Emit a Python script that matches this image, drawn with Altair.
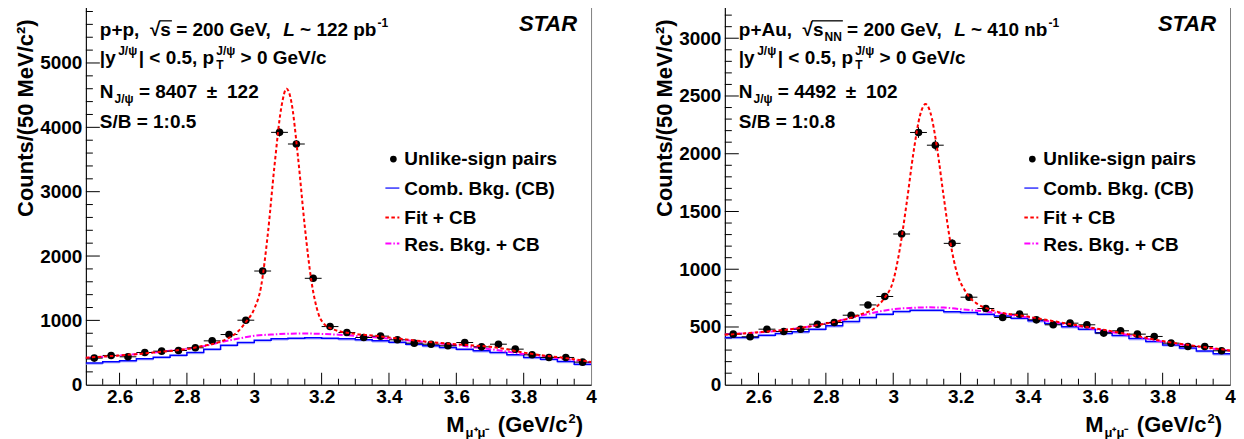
import altair as alt
import pandas as pd

FONT = "Liberation Sans"
W, H = 506, 379

# ---------------- data ----------------
BIN_CENTERS = [2.525, 2.575, 2.625, 2.675, 2.725, 2.775, 2.825, 2.875, 2.925, 2.975,
               3.025, 3.075, 3.125, 3.175, 3.225, 3.275, 3.325, 3.375, 3.425, 3.475,
               3.525, 3.575, 3.625, 3.675, 3.725, 3.775, 3.825, 3.875, 3.925, 3.975]
BIN_HALF = 0.025

# p+p
PP_COUNTS = [414, 455, 434, 501, 522, 532, 574, 682, 780, 1003,
             1767, 3922, 3741, 1654, 904, 811, 734, 755, 698, 646,
             630, 605, 656, 589, 630, 553, 465, 424, 424, 351]
PP_ERR = [20, 21, 21, 22, 23, 23, 24, 26, 28, 32,
          42, 63, 61, 41, 30, 28, 27, 27, 26, 25,
          25, 25, 26, 24, 25, 24, 22, 21, 21, 19]
PP_CB = [336, 357, 372, 403, 429, 460, 501, 553, 615, 656,
         690, 713, 724, 729, 724, 713, 698, 682, 661, 630,
         605, 579, 553, 527, 501, 465, 424, 398, 362, 320]
PP_FIT_X = [2.50, 2.55, 2.60, 2.65, 2.70, 2.75, 2.80, 2.85, 2.90, 2.925, 2.95, 2.975,
            3.00, 3.02, 3.04, 3.06, 3.08, 3.096, 3.11, 3.13, 3.15, 3.17, 3.19, 3.21,
            3.23, 3.25, 3.30, 3.35, 3.40, 3.45, 3.50, 3.55, 3.60, 3.65, 3.70, 3.75,
            3.80, 3.85, 3.90, 3.95, 4.00]
PP_FIT_Y = [420, 438, 455, 475, 500, 525, 555, 605, 670, 730, 820, 975,
            1180, 1520, 2330, 3400, 4300, 4600, 4400, 3530, 2460, 1600, 1110, 930,
            870, 835, 790, 765, 735, 705, 675, 650, 630, 610, 590, 550,
            500, 460, 430, 395, 355]
PP_RES_X = [2.50, 2.60, 2.70, 2.80, 2.85, 2.90, 2.95, 3.00, 3.05, 3.10, 3.15, 3.20,
            3.25, 3.30, 3.40, 3.50, 3.60, 3.70, 3.80, 3.90, 4.00]
PP_RES_Y = [415, 455, 500, 560, 600, 660, 715, 760, 780, 792, 796, 790,
            778, 760, 718, 668, 615, 553, 478, 415, 346]

# p+Au
PA_COUNTS = [438, 415, 481, 461, 481, 524, 539, 602, 691, 764,
             1305, 2184, 2074, 1224, 758, 660, 582, 611, 562, 519,
             533, 519, 447, 467, 438, 418, 360, 331, 331, 294]
PA_ERR = [21, 20, 22, 21, 22, 23, 23, 25, 26, 28,
          36, 47, 46, 35, 28, 26, 24, 25, 24, 23,
          23, 23, 21, 22, 21, 20, 19, 18, 18, 17]
PA_CB = [409, 409, 429, 444, 458, 481, 510, 547, 582, 611,
         634, 645, 645, 631, 625, 611, 596, 576, 553, 530,
         501, 481, 450, 427, 400, 375, 345, 318, 292, 268]
PA_FIT_X = [2.50, 2.60, 2.70, 2.80, 2.85, 2.90, 2.95, 2.975,
            3.00, 3.02, 3.04, 3.06, 3.08, 3.096, 3.11, 3.13, 3.15, 3.17, 3.19, 3.21,
            3.23, 3.25, 3.30, 3.40, 3.50, 3.60, 3.70, 3.80, 3.90, 4.00]
PA_FIT_Y = [432, 455, 482, 530, 560, 605, 675, 755,
            900, 1183, 1575, 2008, 2337, 2430, 2360, 2052, 1625, 1227, 960, 830,
            745, 700, 640, 590, 538, 488, 436, 378, 335, 297]
PA_RES_X = [2.50, 2.60, 2.70, 2.80, 2.90, 3.00, 3.05, 3.10, 3.15, 3.20,
            3.30, 3.40, 3.50, 3.60, 3.70, 3.80, 3.90, 4.00]
PA_RES_Y = [438, 452, 482, 530, 596, 654, 665, 670, 668, 654,
            625, 582, 530, 481, 429, 372, 331, 294]

# axes / ticks
X_LABELS = [2.6, 2.8, 3.0, 3.2, 3.4, 3.6, 3.8, 4.0]
X_MAJOR = [2.6, 2.8, 3.0, 3.2, 3.4, 3.6, 3.8]
X_MINOR = [2.55, 2.65, 2.7, 2.75, 2.85, 2.9, 2.95, 3.05, 3.1, 3.15, 3.25, 3.3, 3.35,
           3.45, 3.5, 3.55, 3.65, 3.7, 3.75, 3.85, 3.9, 3.95]
PP_YMAX = 5880
PP_Y_LABELS = [0, 1000, 2000, 3000, 4000, 5000]
PP_Y_MINOR = [v for v in range(200, 5880, 200) if v % 1000]
PA_YMAX = 3276
PA_Y_LABELS = [0, 500, 1000, 1500, 2000, 2500, 3000]
PA_Y_MINOR = [v for v in range(100, 3276, 100) if v % 500]

PP_BAND = 28
PA_BAND = 16

ONE = alt.Data(values=[{"k": 0}])

# Arial/Liberation Sans Bold advance widths (per 1000 em)
AW = {' ': 278, 'p': 611, '+': 584, ',': 278, '√': 549, 's': 556, '=': 584, 'G': 778,
      'e': 556, 'V': 667, 'L': 611, '~': 584, 'b': 611, 'n': 611, 'A': 722, 'u': 611,
      'N': 722, '|': 280, 'y': 556, '<': 584, '.': 278, '>': 584, 'c': 556, '/': 278,
      'J': 556, 'ψ': 760, 'T': 611, '±': 584, 'S': 667, 'B': 722, ':': 333, '-': 333,
      'M': 833, 'μ': 611, '(': 333, ')': 333, '1': 556}


def tw(s, size):
    return sum(AW.get(ch, 556) for ch in s) / 1000.0 * size


def txt(x, y, s, size=19, italic=False, align="left", angle=None, color="black"):
    props = dict(font=FONT, fontSize=size, fontWeight="bold", align=align,
                 baseline="alphabetic", color=color)
    if italic:
        props["fontStyle"] = "italic"
    if angle is not None:
        props["angle"] = angle
    return alt.Chart(ONE).mark_text(**props).encode(
        x=alt.value(x), y=alt.value(y), text=alt.value(s))


def hline(x1, x2, y, color="black", width=1.5, dash=None):
    props = dict(color=color, strokeWidth=width)
    if dash:
        props["strokeDash"] = dash
    return alt.Chart(ONE).mark_rule(**props).encode(
        x=alt.value(x1), x2=alt.value(x2), y=alt.value(y))


def text_line(x0, yb, pieces, size=19, ssize=12):
    out = []
    x = x0
    ov = None
    for text, kind in pieces:
        if kind == "ovs":
            ov = x
            continue
        if kind == "ove":
            out.append(hline(ov - 1, x + 1, yb - 15.5, width=1.3))
            continue
        if kind == "gap":
            x += float(text)
            continue
        if kind in ("n", "i"):
            lead = len(text) - len(text.lstrip(" "))
            trail = len(text) - len(text.rstrip(" "))
            core = text.strip(" ")
            x += lead * 0.278 * size
            out.append(txt(x, yb, core, size, italic=(kind == "i")))
            x += tw(core, size) + trail * 0.278 * size
        elif kind == "sup":
            out.append(txt(x + 1, yb - 9, text, ssize))
            x += tw(text, ssize) + 1
        elif kind == "sub":
            out.append(txt(x + 1, yb + 5, text, ssize))
            x += tw(text, ssize) + 1
        elif kind == "ss":
            sup, sub = text
            out.append(txt(x + 1, yb - 9, sup, ssize))
            out.append(txt(x + 1, yb + 5, sub, ssize))
            x += max(tw(sup, ssize), tw(sub, ssize)) + 1
    return out


def panel(counts, errs, cb, band, fit_x, fit_y, res_x, res_y, ymax, ylabels, yminor,
          line1, line3, line4, extent_marker):
    xs = alt.Scale(domain=[2.5, 4.0], nice=False, zero=False)
    ys = alt.Scale(domain=[0, ymax], nice=False, zero=True)
    axis_common = dict(ticks=False, tickSize=0, grid=False, labelFont=FONT,
                       labelFontSize=19, labelFontWeight="bold", labelColor="black",
                       labelFlush=False, labelOverlap=False, domainColor="black",
                       domainWidth=1, title=None)
    xaxis = alt.Axis(values=X_LABELS, format=".1~f", labelPadding=3, **axis_common)
    yaxis = alt.Axis(values=ylabels, format="d", labelPadding=4, **axis_common)

    def X(f):
        return alt.X(f"{f}:Q", scale=xs, axis=xaxis)

    def Y(f):
        return alt.Y(f"{f}:Q", scale=ys, axis=yaxis)

    pts = pd.DataFrame({"x": BIN_CENTERS, "v": counts, "e": errs})
    pts["lo"] = pts["x"] - BIN_HALF
    pts["hi"] = pts["x"] + BIN_HALF
    pts["vlo"] = pts["v"] - pts["e"]
    pts["vhi"] = pts["v"] + pts["e"]

    edges = [c - BIN_HALF for c in BIN_CENTERS] + [BIN_CENTERS[-1] + BIN_HALF]
    cbdf = pd.DataFrame({"x": edges, "v": cb + [cb[-1]]})
    cbdf["lo"] = cbdf["v"] - band

    fitdf = pd.DataFrame({"x": fit_x, "v": fit_y})
    resdf = pd.DataFrame({"x": res_x, "v": res_y})

    layers = []
    # ticks drawn inside the frame (ROOT style)
    layers.append(alt.Chart(pd.DataFrame({"t": [v for v in ylabels if v > 0]}))
                  .mark_rule(color="black", strokeWidth=1)
                  .encode(y=Y("t"), x=alt.value(0), x2=alt.value(14)))
    layers.append(alt.Chart(pd.DataFrame({"t": yminor}))
                  .mark_rule(color="black", strokeWidth=1)
                  .encode(y=Y("t"), x=alt.value(0), x2=alt.value(7)))
    layers.append(alt.Chart(pd.DataFrame({"t": X_MAJOR}))
                  .mark_rule(color="black", strokeWidth=1)
                  .encode(x=X("t"), y=alt.value(H), y2=alt.value(H - 12)))
    layers.append(alt.Chart(pd.DataFrame({"t": X_MINOR}))
                  .mark_rule(color="black", strokeWidth=1)
                  .encode(x=X("t"), y=alt.value(H), y2=alt.value(H - 6)))

    # combinatorial background histogram
    layers.append(alt.Chart(cbdf).mark_area(interpolate="step-after", color="#9a9aff",
                                            opacity=0.6)
                  .encode(x=X("x"), y=Y("lo"), y2=alt.Y2("v")))
    layers.append(alt.Chart(cbdf).mark_line(interpolate="step-after", color="#0000ff",
                                            strokeWidth=1.5)
                  .encode(x=X("x"), y=Y("v")))
    # residual background + CB
    layers.append(alt.Chart(resdf).mark_line(interpolate="monotone", color="#ff00ff",
                                             strokeWidth=2, strokeDash=[6, 2, 1.5, 2])
                  .encode(x=X("x"), y=Y("v")))
    # data points
    layers.append(alt.Chart(pts).mark_rule(color="black", strokeWidth=1)
                  .encode(x=X("lo"), x2=alt.X2("hi"), y=Y("v")))
    layers.append(alt.Chart(pts).mark_rule(color="black", strokeWidth=1)
                  .encode(x=X("x"), y=Y("vlo"), y2=alt.Y2("vhi")))
    layers.append(alt.Chart(pts).mark_point(filled=True, shape="circle", size=58,
                                            color="black", opacity=1)
                  .encode(x=X("x"), y=Y("v")))
    # fit + CB
    layers.append(alt.Chart(fitdf).mark_line(interpolate="monotone", color="#ff0000",
                                             strokeWidth=2, strokeDash=[3.5, 2.5])
                  .encode(x=X("x"), y=Y("v")))

    # annotations
    tx = 14
    layers += text_line(tx, 30, line1)
    layers += text_line(tx, 58, [("|y", "n"), ("1.5", "gap"), ("J/ψ", "sup"),
                                 ("1.5", "gap"), ("| < 0.5, p", "n"), ("1", "gap"),
                                 (("J/ψ", "T"), "ss"), (" > 0 GeV/c", "n")])
    layers += text_line(tx, 92, line3)
    layers += text_line(tx, 122, line4)
    layers.append(txt(492, 25, "STAR", size=22, italic=True, align="right"))

    # legend
    layers.append(alt.Chart(ONE).mark_point(filled=True, shape="circle", size=45,
                                            color="black", opacity=1)
                  .encode(x=alt.value(308), y=alt.value(153)))
    layers.append(hline(300, 314, 182, color="#0000ff", width=1.2))
    layers.append(hline(300, 314, 211.5, color="#ff0000", width=2, dash=[3.5, 2.5]))
    layers.append(hline(300, 314, 237.5, color="#ff00ff", width=2, dash=[6, 2, 1.5, 2]))
    layers.append(txt(319, 159, "Unlike-sign pairs"))
    layers.append(txt(319, 189, "Comb. Bkg. (CB)"))
    layers.append(txt(319, 217.5, "Fit + CB"))
    layers.append(txt(319, 245, "Res. Bkg. + CB"))

    # axis titles
    layers.append(txt(-53, 13, "Counts/(50 MeV/c²)", size=22, align="right", angle=270))
    layers += text_line(361, 426, [("M", "n"), ("μ⁺μ⁻", "sub"), ("2", "gap"),
                                   ("(GeV/c", "n"), ("2", "sup"), (")", "n")],
                        size=22, ssize=13)

    if extent_marker:
        layers.append(alt.Chart(ONE).mark_rule(opacity=0, strokeWidth=1)
                      .encode(x=alt.value(-77.5), y=alt.value(200), y2=alt.value(201)))

    return alt.layer(*layers).properties(width=W, height=H)


pp_line1 = [("p+p,  ", "n"), ("√", "n"), ("ovs", "ovs"), ("s", "n"), ("ove", "ove"),
            (" = 200 GeV,  ", "n"), ("L", "i"), (" ~ 122 pb", "n"), ("-1", "sup")]
pa_line1 = [("p+Au,  ", "n"), ("√", "n"), ("ovs", "ovs"), ("s", "n"), ("NN", "sub"),
            ("ove", "ove"), (" = 200 GeV,  ", "n"), ("L", "i"), (" ~ 410 nb", "n"),
            ("-1", "sup")]

left = panel(PP_COUNTS, PP_ERR, PP_CB, PP_BAND, PP_FIT_X, PP_FIT_Y, PP_RES_X, PP_RES_Y,
             PP_YMAX, PP_Y_LABELS, PP_Y_MINOR, pp_line1,
             [("N", "n"), ("J/ψ", "sub"), (" = 8407", "n"), ("4", "gap"), (" ± ", "n"),
              ("4", "gap"), ("122", "n")],
             [("S/B = 1:0.5", "n")], True)
right = panel(PA_COUNTS, PA_ERR, PA_CB, PA_BAND, PA_FIT_X, PA_FIT_Y, PA_RES_X, PA_RES_Y,
              PA_YMAX, PA_Y_LABELS, PA_Y_MINOR, pa_line1,
              [("N", "n"), ("J/ψ", "sub"), (" = 4492", "n"), ("4", "gap"), (" ± ", "n"),
               ("4", "gap"), ("102", "n")],
              [("S/B = 1:0.8", "n")], False)

chart = alt.hconcat(left, right, spacing=134, bounds="flush").configure(
    padding={"left": 0, "top": -3, "right": 0, "bottom": 0}, font=FONT
).configure_view(stroke="#808080", strokeWidth=1)

chart.save("out.html", embed_options={"renderer": "svg", "actions": False})
